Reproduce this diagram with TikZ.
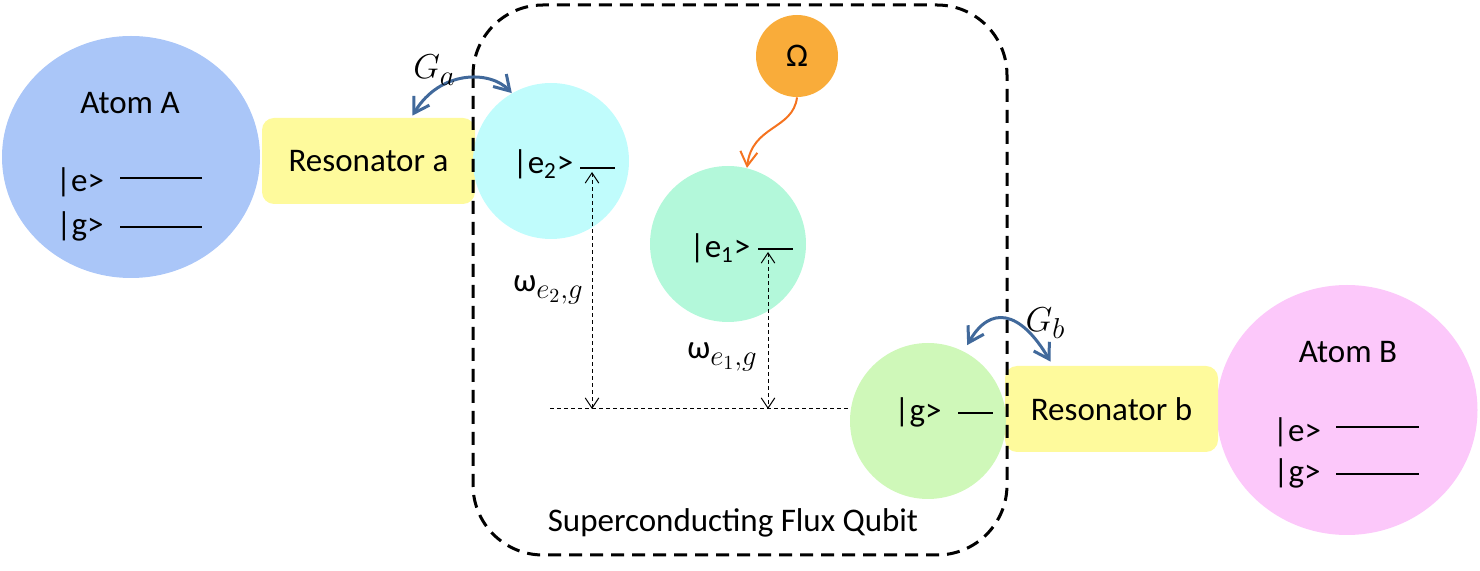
\documentclass[tikz,border=0pt]{standalone}
\usepackage{fontspec}
\setmainfont{Carlito}
\usepackage{tikz}
\usetikzlibrary{arrows.meta,shapes.geometric}

\definecolor{atomAfill}{HTML}{AAC6F8}
\definecolor{atomBfill}{HTML}{FCC8FA}
\definecolor{resfill}{HTML}{FEFA9C}
\definecolor{eTwofill}{HTML}{C0FCFC}
\definecolor{eOnefill}{HTML}{B3F8DA}
\definecolor{gfill}{HTML}{CFF8B9}
\definecolor{omegafill}{HTML}{F9AC3A}
\definecolor{couplecol}{HTML}{41699B}
\definecolor{drivecol}{HTML}{F5731F}

\newcommand{\lowsub}[1]{\raisebox{-0.45ex}{\fontsize{14}{14}\selectfont$#1$}}

\begin{document}
\begin{tikzpicture}[x=0.5pt, y=-0.5pt, every node/.style={font=\fontsize{16.5}{19}\selectfont},
	atom/.style={ellipse, inner sep=0pt},
	state/.style={circle, inner sep=0pt, minimum size=78pt},
	resbox/.style={rectangle, rounded corners=6pt, fill=resfill, minimum width=106.5pt, minimum height=43pt},
	level/.style={line width=0.6pt},
	couple/.style={couplecol, line width=1.5pt, {Straight Barb[length=2.6mm,width=3.2mm]}-{Straight Barb[length=2.6mm,width=3.2mm]}},
	gap/.style={dashed, line width=0.5pt, dash pattern=on 2pt off 1.5pt, {Straight Barb[length=1.8mm,width=2.4mm]}-{Straight Barb[length=1.8mm,width=2.4mm]}}]
	\useasboundingbox (0,0) rectangle (1480,571);
	% atoms and resonators
	\node[atom, fill=atomAfill, minimum width=129pt, minimum height=121pt] (atomA) at (131,157) {};
	\node[atom, fill=atomBfill, minimum width=130.5pt, minimum height=125pt] (atomB) at (1347,410) {};
	\node[resbox] (resA) at (368.5,161) {Resonator a};
	\node[resbox] (resB) at (1111.5,409) {Resonator b};
	% flux qubit levels
	\node[state, fill=eTwofill] (qe2) at (551,161) {};
	\node[state, fill=eOnefill] (qe1) at (728,244) {};
	\node[state, fill=gfill] (qg) at (928,421) {};
	\node[circle, inner sep=0pt, minimum size=41pt, fill=omegafill] (omega) at (797,56) {Ω};
	\draw[black, line width=1.5pt, dash pattern=on 6.5pt off 4pt, rounded corners=35pt] (473,5) rectangle (1007,555);
	\node (sfq) at (733,523) {Superconducting Flux Qubit};
	% atom labels
	\node (atomAlbl) at (130,103) {Atom A};
	\node (atomAe) at (80,182) {|e>};
	\node (atomAg) at (80,226) {|g>};
	\draw[level] (120,178) -- (202,178);
	\draw[level] (120,227) -- (202,227);
	\node (atomBlbl) at (1348,352) {Atom B};
	\node (atomBe) at (1297,432) {|e>};
	\node (atomBg) at (1297,473) {|g>};
	\draw[level] (1336,427) -- (1419,427);
	\draw[level] (1336,474) -- (1419,474);
	% qubit labels
	\node (e2lbl) at (543,164) {|e\textsubscript{2}>};
	\node (e1lbl) at (720,248) {|e\textsubscript{1}>};
	\node (glbl) at (918,412) {|g>};
	\draw[level] (580,168) -- (615,168);
	\draw[level] (758,249) -- (793,249);
	\draw[level] (958,413) -- (993,413);
	% transition frequencies
	\coordinate (topE2) at (592,172);
	\coordinate (topE1) at (768,252);
	\coordinate (base) at (550,409);
	\draw[dashed, line width=0.5pt, dash pattern=on 2pt off 1.5pt] (base) -- (qg.west |- base);
	\draw[gap] (topE2) -- (topE2 |- base);
	\draw[gap] (topE1) -- (topE1 |- base);
	\node (wE2) at (548,290) {ω\lowsub{e_2{,}g}};
	\node (wE1) at (722,357) {ω\lowsub{e_1{,}g}};
	% couplings
	\draw[couple] ([xshift=22pt,yshift=1pt]resA.north) .. controls (440,70) and (490,70) .. (qe2.120);
	\node (Ga) at (434,70) {$G$\lowsub{a}};
	\draw[couple] ([yshift=4pt]qg.60) .. controls (990,305) and (1020,310) .. ([xshift=-30.5pt,yshift=2pt]resB.north);
	\node (Gb) at (1045,323) {$G$\lowsub{b}};
	\draw[drivecol, line width=1pt, -{Straight Barb[length=2.5mm,width=3mm]}] (omega.south) .. controls (793,130) and (752,125) .. (qe1.76);
\end{tikzpicture}
\end{document}
